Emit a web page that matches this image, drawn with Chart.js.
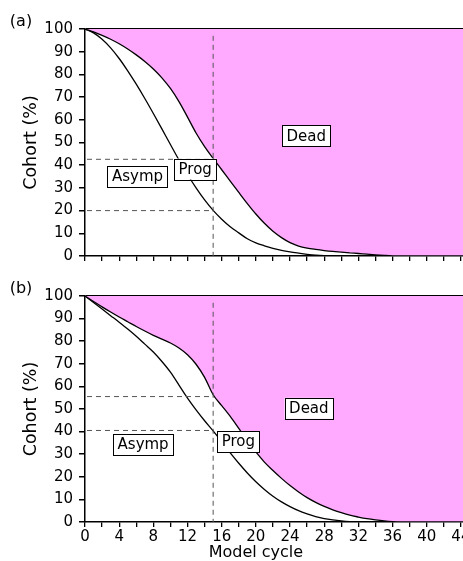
<!DOCTYPE html>
<html>
<head>
<meta charset="utf-8">
<title>Cohort by model cycle</title>
<script src="https://cdn.jsdelivr.net/npm/chart.js@4.4.1/dist/chart.umd.min.js"></script>
<style>
  html, body { margin: 0; padding: 0; background: #fff; overflow: hidden; }
  body { width: 463px; height: 561px; position: relative; }
  canvas { position: absolute; left: 0; }
  #chartA { top: 0; }
  #chartB { top: 280px; }
</style>
</head>
<body>
<canvas id="chartA" width="510" height="280"></canvas>
<canvas id="chartB" width="510" height="284"></canvas>
<script>
"use strict";

// model cycles (x)
const cycles = [0, 1, 2, 3, 4, 5, 6, 7, 8, 9, 10, 11, 12, 13, 14, 15, 16, 17, 18, 19, 20,
  21, 22, 23, 24, 25, 26, 27, 28, 29, 30, 31, 32, 33, 34, 35, 36, 37, 38, 39, 40,
  41, 42, 43, 44, 45, 46];

// panel (a): alive (asymp + prog) and asymptomatic, % of cohort
const aliveA = [100, 98.7, 97.2, 95.5, 93.5, 91.2, 88.6, 85.7, 82.4, 78.5, 73.8, 68, 61.2, 54.2, 48.2, 43, 38, 33, 28, 23.1, 18.5,
  14.4, 10.9, 8.1, 5.9, 4.4, 3.5, 2.9, 2.4, 2, 1.7, 1.4, 1.1, 0.8, 0.5, 0.25, 0.05, 0, 0, 0, 0,
  0, 0, 0, 0, 0, 0];
const asympA = [100, 98.3, 95.5, 91.7, 87, 81.6, 75.7, 69.4, 62.8, 56, 49.1, 42.3, 35.9, 30, 24.7, 20.1, 16.2, 12.9, 10.2, 7.6, 5.8,
  4.5, 3.4, 2.5, 1.8, 1.25, 0.75, 0.35, 0.1, 0, 0, 0, 0, 0, 0, 0, 0, 0, 0, 0, 0,
  0, 0, 0, 0, 0, 0];

// panel (b)
const aliveB = [100, 97.6, 95.2, 92.9, 90.7, 88.6, 86.5, 84.5, 82.6, 80.9, 79.2, 77, 74, 69.8, 64, 56.3, 51.5, 46.7, 41.4, 36, 31,
  26.5, 22.8, 19.3, 16.1, 13.3, 10.8, 8.7, 6.9, 5.4, 4.1, 3, 2.2, 1.5, 0.95, 0.5, 0.2, 0.05, 0, 0, 0,
  0, 0, 0, 0, 0, 0];
const asympB = [100, 97.1, 94.2, 91.3, 88.4, 85.4, 82.2, 78.7, 75.2, 71, 66.3, 60.6, 54.8, 49.6, 44.8, 40.3, 35.5, 30.6, 26, 21.7, 17.8,
  14.4, 11.4, 8.9, 6.8, 5, 3.6, 2.4, 1.5, 0.9, 0.45, 0.15, 0, 0, 0, 0, 0, 0, 0, 0, 0,
  0, 0, 0, 0, 0, 0];

const guideCycle = 15;
const guideLevelsA = [42.6, 20];
const guideLevelsB = [55.5, 40.5];

// boxed labels [text, cycle, %]
const labelsA = [['Asymp', 6.15, 35.2], ['Prog', 12.9, 38.3], ['Dead', 25.9, 53]];
const labelsB = [['Asymp', 6.8, 34.5], ['Prog', 17.95, 35.6], ['Dead', 26.2, 50.3]];

const FONT = 'DejaVu Sans';
const PINK = '#ffaaff';

Chart.defaults.font.family = FONT;
Chart.defaults.color = '#000';

const toPoints = (ys) => cycles.map((c, i) => ({ x: c, y: ys[i] }));

const annotate = {
  id: 'annotate',
  afterDraw(chart, args, opts) {
    const { ctx, chartArea } = chart;
    const x = chart.scales.x;
    const y = chart.scales.y;
    ctx.save();

    // dashed guide lines
    ctx.strokeStyle = '#555';
    ctx.lineWidth = 1;
    ctx.setLineDash([5, 4]);
    const gx = x.getPixelForValue(opts.guideCycle);
    ctx.beginPath();
    ctx.moveTo(gx, y.getPixelForValue(97));
    ctx.lineTo(gx, y.getPixelForValue(0));
    for (const v of opts.levels) {
      const gy = y.getPixelForValue(v);
      ctx.moveTo(x.getPixelForValue(0) + 2, gy);
      ctx.lineTo(gx, gy);
    }
    ctx.stroke();
    ctx.setLineDash([]);

    // boxed labels
    ctx.font = '15px "' + FONT + '"';
    ctx.textAlign = 'center';
    ctx.textBaseline = 'middle';
    for (const [text, c, v] of opts.labels) {
      const px = x.getPixelForValue(c);
      const py = y.getPixelForValue(v);
      const w = ctx.measureText(text).width + 9;
      const h = 21;
      ctx.fillStyle = '#fff';
      ctx.fillRect(px - w / 2, py - h / 2, w, h);
      ctx.strokeStyle = '#000';
      ctx.strokeRect(Math.round(px - w / 2) + 0.5, Math.round(py - h / 2) + 0.5, Math.round(w), h);
      ctx.fillStyle = '#000';
      ctx.fillText(text, px, py + 1);
    }

    // panel letter
    ctx.font = '16px "' + FONT + '"';
    ctx.textAlign = 'center';
    ctx.fillText(opts.letter, 21, opts.letterY);

    // x axis title
    if (opts.xTitle) {
      ctx.font = '16px "' + FONT + '"';
      ctx.fillText(opts.xTitle, x.getPixelForValue(20), chartArea.bottom + 31);
    }
    ctx.restore();
  }
};

function makeChart(id, alive, asymp, cfg) {
  return new Chart(document.getElementById(id), {
    type: 'line',
    data: {
      datasets: [
        {
          label: 'Alive',
          data: toPoints(alive),
          borderColor: '#000',
          borderWidth: 1.3,
          backgroundColor: PINK,
          fill: 'end',
          pointRadius: 0,
          cubicInterpolationMode: 'monotone'
        },
        {
          label: 'Asymp',
          data: toPoints(asymp),
          borderColor: '#000',
          borderWidth: 1.3,
          fill: false,
          pointRadius: 0,
          cubicInterpolationMode: 'monotone'
        }
      ]
    },
    options: {
      responsive: false,
      animation: false,
      layout: { padding: { top: cfg.top, right: 32, bottom: 0, left: 0 } },
      plugins: {
        legend: { display: false },
        tooltip: { enabled: false },
        annotate: {
          guideCycle: guideCycle,
          levels: cfg.levels,
          labels: cfg.labels,
          letter: cfg.letter,
          letterY: cfg.letterY,
          xTitle: cfg.xTitle
        }
      },
      scales: {
        x: {
          type: 'linear',
          min: 0,
          max: 46,
          z: 1,
          ticks: {
            stepSize: 2,
            autoSkip: false,
            maxRotation: 0,
            padding: 1,
            font: { size: 15 },
            color: '#000',
            callback: (v) => (cfg.xLabels && v % 4 === 0 && v <= 44) ? String(v) : ''
          },
          grid: { drawOnChartArea: false, tickColor: '#000', tickLength: 5, lineWidth: 1.3 },
          border: { color: '#000', width: 1.5 },
          afterFit(scale) { scale.height = cfg.xHeight; }
        },
        y: {
          min: 0,
          max: 100,
          z: 1,
          ticks: { stepSize: 10, padding: 6, font: { size: 15 }, color: '#000' },
          grid: {
            color: (ctx) => (ctx.tick && ctx.tick.value === 100) ? '#000' : 'rgba(0,0,0,0)',
            tickColor: '#000',
            tickLength: 6,
            lineWidth: 1.5
          },
          border: { color: '#000', width: 1.5 },
          title: {
            display: true,
            text: 'Cohort (%)',
            color: '#000',
            font: { size: 17.5 },
            padding: { top: 20.5, bottom: 0 }
          },
          afterFit(scale) { scale.width = 85; }
        }
      }
    },
    plugins: [annotate]
  });
}

makeChart('chartA', aliveA, asympA, {
  top: 29, xHeight: 24, xLabels: false,
  levels: guideLevelsA, labels: labelsA, letter: '(a)', letterY: 22
});

makeChart('chartB', aliveB, asympB, {
  top: 16, xHeight: 42, xLabels: true,
  levels: guideLevelsB, labels: labelsB, letter: '(b)', letterY: 9,
  xTitle: 'Model cycle'
});
</script>
</body>
</html>
